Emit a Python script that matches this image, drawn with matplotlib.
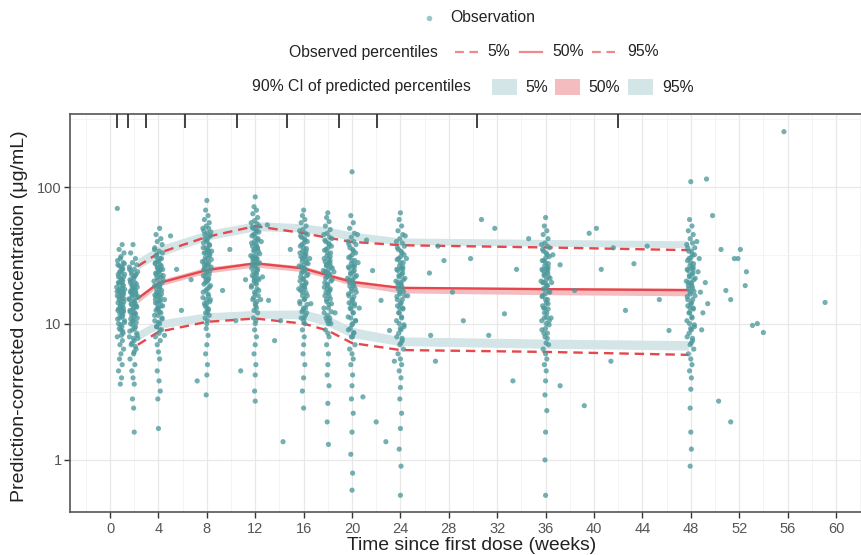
import numpy as np
import matplotlib.pyplot as plt
from matplotlib.lines import Line2D
from matplotlib.patches import Rectangle

plt.rcParams['font.family'] = ['Liberation Sans', 'DejaVu Sans']

# observations, (time in weeks, prediction-corrected concentration)
obs_wk1 = [(0.6, 70), (1.0, 38), (0.75, 35), (1.15, 33), (0.9, 31), (0.85, 30), (1.1, 28), (0.65, 27),
           (0.95, 26), (1.05, 25), (0.8, 24), (1.2, 23), (0.7, 22), (0.98, 21), (0.88, 20), (1.08, 19),
           (0.55, 18.5), (1.02, 18), (0.82, 17), (1.12, 16.5), (0.6, 16), (1.0, 15.5), (0.75, 15),
           (1.15, 14.5), (0.9, 14), (0.85, 13.5), (1.1, 13), (0.65, 12.5), (0.95, 12), (1.05, 11.5),
           (0.8, 11), (1.2, 10.5), (0.7, 10), (0.98, 9.5), (0.88, 9), (1.08, 8.5), (0.6, 8), (1.02, 7.5),
           (0.82, 7), (1.12, 6.5), (0.9, 6), (0.78, 5.5), (1.0, 5), (0.7, 4.5), (0.95, 4), (0.85, 3.6),
           (1.05, 20.5), (0.72, 17.5), (0.92, 23.5), (1.1, 12.2),
           (0.62, 29), (1.18, 27.5), (0.78, 26.5), (1.03, 25.5), (0.92, 24.5), (0.68, 23), (1.13, 22),
           (0.87, 21.5), (0.97, 20.8), (0.73, 19.8), (1.07, 19.2), (0.83, 18.2), (1.22, 17.8),
           (0.58, 17.2), (0.93, 16.8), (1.01, 16.2), (0.77, 15.8), (1.16, 15.2), (0.86, 14.8),
           (0.66, 14.2), (1.06, 13.8), (0.96, 13.2), (0.71, 12.8), (1.11, 12.4), (0.81, 11.8),
           (0.99, 11.2), (0.63, 10.8), (1.19, 10.2), (0.89, 9.8), (0.76, 9.2), (1.04, 8.8), (0.94, 8.2),
           (0.69, 20), (1.09, 17), (0.84, 13)]
obs_wk2 = [(1.9, 38), (1.7, 33), (2.1, 30), (1.85, 28), (2.2, 27), (1.6, 26), (2.0, 25), (1.75, 24),
           (2.15, 23), (1.95, 22), (1.65, 21), (2.05, 20), (1.8, 19), (2.25, 18.5), (1.9, 18), (1.7, 17),
           (2.1, 16.5), (1.85, 16), (2.2, 15.5), (1.6, 15), (2.0, 14.5), (1.75, 14), (2.15, 13.5),
           (1.95, 13), (1.65, 12.5), (2.05, 12), (1.8, 11.5), (2.25, 11), (1.9, 10.5), (1.7, 10),
           (2.1, 9.5), (1.85, 9), (2.2, 8.5), (1.6, 8), (2.0, 7.5), (1.75, 7), (2.15, 6.5), (1.95, 6),
           (1.65, 5.5), (2.05, 5), (1.8, 4.5), (1.9, 4), (2.0, 3.6), (1.85, 2.8), (1.95, 2.4), (2.0, 1.6),
           (1.75, 20.5), (2.1, 17.5), (1.95, 11.8), (2.3, 7.8),
           (1.62, 25), (2.28, 24), (1.78, 23), (2.08, 22.5), (1.97, 21.5), (1.68, 20), (2.18, 19.5),
           (1.88, 18.8), (2.02, 18.2), (1.73, 17.5), (2.13, 16.8), (1.83, 16.2), (2.32, 15.8),
           (1.58, 15.2), (1.98, 14.8), (2.06, 14.2), (1.77, 13.8), (2.21, 13.2), (1.91, 12.8),
           (1.66, 12.2), (2.11, 11.8), (2.01, 11.2), (1.71, 10.8), (2.16, 10.2), (1.86, 9.8),
           (2.04, 9.2), (1.63, 8.8), (2.24, 8.2), (1.94, 7.8), (1.81, 7.2), (2.09, 6.8), (1.99, 6.2),
           (1.74, 17), (2.14, 13.5), (1.89, 10.5)]
obs_wk4 = [(4.1, 50), (3.8, 45), (4.2, 42), (3.9, 40), (4.3, 38), (3.7, 36), (4.05, 34), (3.85, 32),
           (4.25, 30), (3.95, 29), (3.75, 28), (4.15, 27), (3.9, 26), (4.35, 25), (4.0, 24), (3.8, 23),
           (4.2, 22), (3.95, 21), (4.3, 20), (3.7, 19), (4.1, 18), (3.85, 17), (4.25, 16.5), (4.05, 16),
           (3.75, 15), (4.15, 14.5), (3.9, 14), (4.35, 13.5), (4.0, 13), (3.8, 12.5), (4.2, 12),
           (3.95, 11.5), (4.3, 11), (3.7, 10.5), (4.1, 10), (3.85, 9.5), (4.25, 9), (4.05, 8.5),
           (3.75, 8), (4.15, 7.5), (3.9, 7), (4.0, 6.2), (4.1, 5.5), (3.9, 4.5), (4.05, 3.8), (4.15, 3.2),
           (3.95, 2.8), (4.0, 1.7), (4.4, 22.5), (4.5, 8.2),
           (3.67, 35), (4.33, 33), (3.83, 31), (4.13, 30), (4.02, 28.5), (3.73, 27.5), (4.23, 26.5),
           (3.93, 25.5), (4.07, 24.5), (3.78, 23.5), (4.18, 22.8), (3.88, 21.8), (4.37, 21.2),
           (3.63, 20.5), (4.03, 19.5), (4.11, 18.8), (3.82, 18.2), (4.26, 17.5), (3.96, 16.8),
           (3.71, 16.2), (4.16, 15.5), (4.06, 14.8), (3.76, 14.2), (4.21, 13.5), (3.91, 12.8),
           (4.09, 12.2), (3.68, 11.5), (4.29, 10.8), (3.99, 10.2), (3.86, 9.5), (4.14, 9.0), (4.04, 19),
           (3.79, 15.8), (4.19, 25), (3.94, 13)]
obs_wk8 = [(8.0, 80), (7.9, 68), (8.1, 62), (7.8, 58), (8.2, 55), (7.95, 52), (8.15, 50), (7.75, 48),
           (8.05, 46), (8.3, 44), (7.85, 42), (8.0, 40), (8.2, 38), (7.7, 36), (8.1, 35), (7.9, 33),
           (8.25, 32), (8.05, 30), (7.8, 29), (8.15, 28), (7.95, 27), (8.35, 26), (7.75, 25), (8.0, 24),
           (8.2, 23), (7.85, 22), (8.1, 21), (7.9, 20), (8.3, 19), (8.05, 18), (7.7, 17), (8.15, 16),
           (7.95, 15), (8.25, 14.5), (7.8, 14), (8.0, 13), (8.1, 12.5), (7.9, 12), (8.2, 11.5),
           (7.85, 11), (8.05, 10.5), (8.0, 10), (7.95, 9.2), (8.1, 8.2), (8.0, 7), (7.9, 6), (8.05, 5),
           (8.0, 4.2), (7.95, 3.0), (8.4, 34),
           (7.67, 50), (8.33, 47), (7.83, 45), (8.13, 43), (8.02, 41), (7.73, 39), (8.23, 37.5),
           (7.93, 36), (8.07, 34.5), (7.78, 33), (8.18, 31.5), (7.88, 30.5), (8.37, 29.5), (7.63, 28.5),
           (8.03, 27.5), (8.11, 26.5), (7.82, 25.5), (8.26, 24.5), (7.96, 23.5), (7.71, 22.5),
           (8.16, 21.5), (8.06, 20.5), (7.76, 19.5), (8.21, 18.5), (7.91, 17.5), (8.09, 16.5),
           (7.68, 15.5), (8.29, 15), (7.99, 14), (7.86, 13.5), (8.14, 12.8), (8.04, 12), (7.79, 27),
           (8.19, 33.5), (7.94, 21)]
obs_wk12 = [(12.0, 85), (11.9, 72), (12.1, 68), (11.8, 64), (12.2, 60), (11.95, 57), (12.15, 54),
            (11.75, 51), (12.05, 49), (12.3, 47), (11.85, 45), (12.0, 43), (12.2, 41), (11.7, 39),
            (12.1, 37), (11.9, 35), (12.25, 34), (12.05, 32), (11.8, 31), (12.15, 30), (11.95, 29),
            (12.35, 28), (11.75, 27), (12.0, 26), (12.2, 25), (11.85, 24), (12.1, 23), (11.9, 22),
            (12.3, 21), (12.05, 20), (11.7, 19), (12.15, 18), (11.95, 17), (12.25, 16), (11.8, 15),
            (12.0, 14), (12.1, 13), (11.9, 12.5), (12.2, 12), (11.85, 11), (12.05, 10.5), (12.0, 10),
            (11.95, 9), (12.1, 8), (12.0, 7), (11.9, 6), (12.05, 5), (12.0, 4.2), (11.95, 3.2),
            (12.0, 2.7), (12.5, 40), (12.6, 22), (12.45, 15),
            (11.67, 55), (12.33, 52), (11.83, 50), (12.13, 48), (12.02, 46), (11.73, 44), (12.23, 42),
            (11.93, 40), (12.07, 38.5), (11.78, 37), (12.18, 35.5), (11.88, 34), (12.37, 32.5),
            (11.63, 31.5), (12.03, 30.5), (12.11, 29.5), (11.82, 28.5), (12.26, 27.5), (11.96, 26.5),
            (11.71, 25.5), (12.16, 24.5), (12.06, 23.5), (11.76, 22.5), (12.21, 21.5), (11.91, 20.5),
            (12.09, 19.5), (11.68, 18.5), (12.29, 17.5), (11.99, 16.5), (11.86, 15.5), (12.14, 14.5),
            (12.04, 13.5), (11.79, 30), (12.19, 36), (11.94, 21)]
obs_wk16 = [(16.0, 68), (15.9, 62), (16.1, 58), (15.8, 55), (16.2, 52), (15.95, 49), (16.15, 46),
            (15.75, 44), (16.05, 42), (16.3, 40), (15.85, 38), (16.0, 36), (16.2, 34), (15.7, 33),
            (16.1, 31), (15.9, 30), (16.25, 28), (16.05, 27), (15.8, 26), (16.15, 25), (15.95, 24),
            (16.35, 23), (15.75, 22), (16.0, 21), (16.2, 20), (15.85, 19), (16.1, 18), (15.9, 17),
            (16.3, 16), (16.05, 15), (15.7, 14), (16.15, 13), (15.95, 12.5), (16.25, 12), (15.8, 11),
            (16.0, 10.5), (16.1, 10), (15.9, 9), (16.05, 8), (16.0, 7), (15.95, 6), (16.1, 5), (16.0, 4),
            (15.9, 3.2), (16.0, 2.4), (16.5, 30), (16.6, 14), (15.6, 18),
            (15.67, 48), (16.33, 45), (15.83, 43), (16.13, 41), (16.02, 39), (15.73, 37), (16.23, 35.5),
            (15.93, 34), (16.07, 32.5), (15.78, 31), (16.18, 29.5), (15.88, 28.5), (16.37, 27.5),
            (15.63, 26.5), (16.03, 25.5), (16.11, 24.5), (15.82, 23.5), (16.26, 22.5), (15.96, 21.5),
            (15.71, 20.5), (16.16, 19.5), (16.06, 18.5), (15.76, 17.5), (16.21, 16.8), (15.91, 16),
            (16.09, 15.2), (15.68, 14.5), (16.29, 13.8), (15.99, 13), (15.86, 12.2), (16.14, 11.5),
            (16.04, 11), (15.79, 26), (16.19, 32), (15.94, 19)]
obs_wk18 = [(18.0, 65), (17.9, 60), (18.1, 56), (17.8, 52), (18.2, 49), (17.95, 46), (18.15, 43),
            (17.75, 41), (18.05, 39), (18.3, 37), (17.85, 35), (18.0, 33), (18.2, 31), (17.7, 30),
            (18.1, 28), (17.9, 27), (18.25, 26), (18.05, 25), (17.8, 24), (18.15, 23), (17.95, 22),
            (18.35, 21), (17.75, 20), (18.0, 19), (18.2, 18), (17.85, 17), (18.1, 16), (17.9, 15),
            (18.3, 14), (18.05, 13), (17.7, 12), (18.15, 11), (17.95, 10.5), (18.25, 10), (17.8, 9),
            (18.0, 8.5), (18.1, 8), (17.9, 7), (18.05, 6), (18.0, 5), (17.95, 4.2), (18.1, 3.5),
            (18.0, 2.6), (17.95, 1.9), (18.05, 1.3), (18.5, 24), (18.6, 12),
            (17.67, 45), (18.33, 42), (17.83, 40), (18.13, 38), (18.02, 36), (17.73, 34.5), (18.23, 33),
            (17.93, 31.5), (18.07, 30), (17.78, 28.5), (18.18, 27.5), (17.88, 26.5), (18.37, 25.5),
            (17.63, 24.5), (18.03, 23.5), (18.11, 22.5), (17.82, 21.5), (18.26, 20.5), (17.96, 19.5),
            (17.71, 18.5), (18.16, 17.5), (18.06, 16.8), (17.76, 16), (18.21, 15.2), (17.91, 14.5),
            (18.09, 13.8), (17.68, 13), (18.29, 12.2), (17.99, 11.5), (17.86, 11), (18.14, 10.5),
            (18.04, 10), (17.79, 24), (18.19, 29), (17.94, 18)]
obs_wk20 = [(20.0, 130), (19.9, 62), (20.1, 55), (19.8, 50), (20.2, 46), (19.95, 43), (20.15, 40),
            (19.75, 38), (20.05, 35), (20.3, 33), (19.85, 31), (20.0, 29), (20.2, 27), (19.7, 26),
            (20.1, 24), (19.9, 23), (20.25, 22), (20.05, 21), (19.8, 20), (20.15, 19), (19.95, 18),
            (20.35, 17), (19.75, 16), (20.0, 15), (20.2, 14), (19.85, 13), (20.1, 12), (19.9, 11),
            (20.3, 10.5), (20.05, 10), (19.7, 9), (20.15, 8.5), (19.95, 8), (20.25, 7), (19.8, 6.5),
            (20.0, 6), (20.1, 5.5), (19.9, 5), (20.05, 4.2), (20.0, 3.5), (19.95, 2.8), (20.1, 2.2),
            (20.0, 1.6), (19.9, 1.1), (20.05, 0.8), (20.0, 0.6), (20.5, 28), (20.6, 13), (20.45, 45),
            (19.67, 40), (20.33, 38), (19.83, 36), (20.13, 34), (20.02, 32), (19.73, 30.5), (20.23, 29),
            (19.93, 27.5), (20.07, 26.5), (19.78, 25.5), (20.18, 24.5), (19.88, 23.5), (20.37, 22.5),
            (19.63, 21.5), (20.03, 20.5), (20.11, 19.5), (19.82, 18.8), (20.26, 18), (19.96, 17.2),
            (19.71, 16.5), (20.16, 15.8), (20.06, 15), (19.76, 14.2), (20.21, 13.5), (19.91, 12.8),
            (20.09, 12), (19.68, 11.2), (20.29, 10.5), (19.99, 9.8), (19.86, 9.2), (20.14, 8.6),
            (20.04, 8), (19.79, 21), (20.19, 26), (19.94, 14)]
obs_wk24 = [(24.0, 65), (23.9, 58), (24.1, 52), (23.8, 48), (24.2, 45), (23.95, 42), (24.15, 39),
            (23.75, 36), (24.05, 34), (24.3, 32), (23.85, 30), (24.0, 28), (24.2, 26), (23.7, 25),
            (24.1, 23), (23.9, 22), (24.25, 21), (24.05, 20), (23.8, 19), (24.15, 18), (23.95, 17),
            (24.35, 16), (23.75, 15), (24.0, 14), (24.2, 13), (23.85, 12), (24.1, 11), (23.9, 10),
            (24.3, 9.5), (24.05, 9), (23.7, 8), (24.15, 7.5), (23.95, 7), (24.25, 6.5), (23.8, 6),
            (24.0, 5.5), (24.1, 5), (23.9, 4.5), (24.05, 4), (24.0, 3.4), (23.95, 2.8), (24.1, 2.2),
            (24.0, 1.7), (23.9, 1.2), (24.05, 0.9), (24.0, 0.55), (24.5, 30), (24.6, 16), (24.4, 44),
            (23.67, 40), (24.33, 37), (23.83, 35), (24.13, 33), (24.02, 31), (23.73, 29.5), (24.23, 28),
            (23.93, 26.5), (24.07, 25.5), (23.78, 24.5), (24.18, 23.5), (23.88, 22.5), (24.37, 21.5),
            (23.63, 20.5), (24.03, 19.5), (24.11, 18.8), (23.82, 18), (24.26, 17.2), (23.96, 16.5),
            (23.71, 15.8), (24.16, 15), (24.06, 14.2), (23.76, 13.5), (24.21, 12.8), (23.91, 12),
            (24.09, 11.2), (23.68, 10.5), (24.29, 9.8), (23.99, 9.2), (23.86, 8.5), (24.14, 7.8),
            (24.04, 7.2), (23.79, 20), (24.19, 25), (23.94, 13)]
obs_wk36 = [(36.0, 60), (35.9, 52), (36.1, 48), (35.8, 45), (36.2, 42), (35.95, 39), (36.15, 37),
            (35.75, 35), (36.05, 33), (36.3, 31), (35.85, 29), (36.0, 28), (36.2, 26), (35.7, 25),
            (36.1, 24), (35.9, 23), (36.25, 22), (36.05, 21), (35.8, 20), (36.15, 19), (35.95, 18),
            (36.35, 17), (35.75, 16), (36.0, 15), (36.2, 14), (35.85, 13), (36.1, 12), (35.9, 11),
            (36.3, 10.5), (36.05, 10), (35.7, 9), (36.15, 8.5), (35.95, 8), (36.25, 7), (35.8, 6.5),
            (36.0, 6), (36.1, 5.5), (35.9, 5), (36.05, 4.5), (36.0, 3.8), (35.95, 3.0), (36.1, 2.3),
            (36.0, 1.6), (35.95, 1.0), (36.0, 0.55), (36.5, 20), (36.6, 32), (36.45, 11),
            (35.67, 38), (36.33, 36), (35.83, 34), (36.13, 32), (36.02, 30.5), (35.73, 29), (36.23, 27.5),
            (35.93, 26.5), (36.07, 25.5), (35.78, 24.5), (36.18, 23.5), (35.88, 22.5), (36.37, 21.5),
            (35.63, 20.5), (36.03, 19.5), (36.11, 18.8), (35.82, 18), (36.26, 17.2), (35.96, 16.5),
            (35.71, 15.8), (36.16, 15), (36.06, 14.2), (35.76, 13.5), (36.21, 12.8), (35.91, 12),
            (36.09, 11.2), (35.68, 10.5), (36.29, 9.8), (35.99, 9.2), (35.86, 8.5), (36.14, 7.8),
            (36.04, 7.2), (35.79, 20), (36.19, 25), (35.94, 13)]
obs_wk48 = [(48.0, 110), (47.9, 58), (48.1, 52), (47.8, 48), (48.2, 45), (47.95, 42), (48.15, 39),
            (47.75, 36), (48.05, 34), (48.3, 32), (47.85, 30), (48.0, 28), (48.2, 26), (47.7, 25),
            (48.1, 23), (47.9, 22), (48.25, 21), (48.05, 20), (47.8, 19), (48.15, 18), (47.95, 17),
            (48.35, 16), (47.75, 15), (48.0, 14), (48.2, 13), (47.85, 12), (48.1, 11), (47.9, 10),
            (48.3, 9.5), (48.05, 9), (47.7, 8), (48.15, 7.5), (47.95, 7), (48.25, 6.5), (47.8, 6),
            (48.0, 5.5), (48.1, 5), (47.9, 4.5), (48.05, 4), (48.0, 3.3), (47.95, 2.4), (48.0, 1.6),
            (48.05, 1.2), (47.95, 0.9), (48.6, 24), (48.8, 17), (49.0, 12), (48.7, 30), (49.2, 20),
            (48.9, 9), (48.5, 40), (49.4, 14),
            (47.67, 38), (48.33, 36), (47.83, 34), (48.13, 32), (48.02, 30.5), (47.73, 29), (48.23, 27.5),
            (47.93, 26.5), (48.07, 25.5), (47.78, 24.5), (48.18, 23.5), (47.88, 22.5), (48.37, 21.5),
            (47.63, 20.5), (48.03, 19.5), (48.11, 18.8), (47.82, 18), (48.26, 17.2), (47.96, 16.5),
            (47.71, 15.8), (48.16, 15), (48.06, 14.2), (47.76, 13.5), (48.21, 12.8), (47.91, 12),
            (48.09, 11.2), (47.68, 10.5), (48.29, 9.8), (47.99, 9.2), (47.86, 8.5), (48.14, 7.8),
            (48.04, 7.2), (47.79, 20), (48.19, 25), (47.94, 13)]
# off-schedule samples
obs_other = [(5.9, 12.5), (6.7, 21), (5.5, 25), (7.2, 3.8), (5.0, 44), (4.5, 15),
             (9.9, 35), (10.4, 10.5), (10.8, 4.5), (9.3, 17.5), (11.2, 21),
             (13.1, 14.8), (14.1, 10.5), (14.9, 35), (13.6, 7.5), (13.0, 53), (14.3, 1.36),
             (21.2, 41), (21.7, 24.5), (22.4, 14.8), (23.1, 8.9), (20.9, 2.9), (22.0, 1.9),
             (22.8, 1.36), (23.5, 5.3),
             (26.4, 23.5), (27.1, 37), (28.3, 17), (29.2, 10.5), (29.8, 30), (30.7, 58), (31.8, 50),
             (32.6, 11.8), (33.6, 25), (34.6, 42), (33.3, 3.8), (31.3, 8.2), (27.6, 29), (26.5, 8.2),
             (26.9, 5.3),
             (37.2, 27), (38.4, 17.5), (39.6, 46), (40.6, 25), (41.6, 36), (42.6, 12.5), (43.3, 27.5),
             (44.4, 37), (45.4, 15), (46.2, 8.9), (39.2, 2.5), (41.4, 5.3), (37.2, 3.5), (40.2, 50),
             (49.3, 115), (49.8, 62), (50.5, 35), (51.6, 30), (51.9, 30), (52.1, 35), (50.9, 17.5),
             (51.3, 15), (52.5, 19), (53.1, 9.7), (53.5, 10), (54.0, 8.6), (55.7, 256), (59.1, 14.3),
             (50.3, 2.7), (51.3, 1.9), (52.6, 24)]

# time-bin boundaries (rug on top)
bin_edges = [0.55, 1.49, 2.98, 6.16, 10.5, 14.6, 18.9, 22.07, 30.3, 42.0]

# percentile curves
pct_time = [2.3, 4.0, 8.0, 12.0, 16.0, 18.0, 20.0, 24.0, 36.0, 47.8]
obs_p05 = [7.0, 8.7, 10.3, 10.9, 10.0, 8.9, 7.2, 6.4, 6.2, 5.9]
obs_p50 = [15.3, 19.8, 24.7, 27.7, 25.4, 22.6, 20.2, 18.3, 17.9, 17.6]
obs_p95 = [26.4, 32.9, 43.3, 51.9, 46.1, 42.6, 39.8, 37.6, 36.2, 34.6]
pred_p05_lo = [7.6, 9.2, 10.5, 11.0, 10.8, 9.6, 7.9, 6.9, 6.6, 6.4]
pred_p05_hi = [8.8, 10.6, 12.0, 12.5, 12.6, 11.4, 9.4, 8.0, 7.7, 7.5]
pred_p50_lo = [14.2, 18.8, 23.5, 26.0, 24.0, 21.5, 19.0, 16.8, 16.3, 16.0]
pred_p50_hi = [15.8, 20.8, 26.0, 28.5, 26.5, 23.5, 21.0, 18.6, 18.4, 18.2]
pred_p95_lo = [25.0, 31.0, 41.0, 48.0, 47.0, 44.0, 41.0, 38.0, 37.0, 36.0]
pred_p95_hi = [30.0, 37.0, 48.0, 56.0, 54.0, 51.0, 47.0, 42.5, 41.5, 40.5]

x_ticks = list(range(0, 61, 4))
y_ticks = [1, 10, 100]

teal = '#4d999c'
red = '#e5474c'
band_blue = '#d3e5e7'
band_pink = '#f5bcc0'

fig = plt.figure(figsize=(8.61, 5.55), dpi=100)
ax = fig.add_axes([0.0813, 0.0775, 0.9187, 0.7171])

# CI bands
ax.fill_between(pct_time, pred_p05_lo, pred_p05_hi, color=band_blue, lw=0, zorder=1)
ax.fill_between(pct_time, pred_p95_lo, pred_p95_hi, color=band_blue, lw=0, zorder=1)
ax.fill_between(pct_time, pred_p50_lo, pred_p50_hi, color=band_pink, lw=0, zorder=1)

# observed percentiles
ax.plot(pct_time, obs_p05, color=red, lw=1.7, ls=(0, (4, 2.5)), zorder=2)
ax.plot(pct_time, obs_p50, color=red, lw=1.7, zorder=2)
ax.plot(pct_time, obs_p95, color=red, lw=1.7, ls=(0, (4, 2.5)), zorder=2)

# observations
all_obs = (obs_wk1 + obs_wk2 + obs_wk4 + obs_wk8 + obs_wk12 + obs_wk16 + obs_wk18 + obs_wk20
           + obs_wk24 + obs_wk36 + obs_wk48 + obs_other)
t = np.array([p[0] for p in all_obs])
c = np.array([p[1] for p in all_obs])
ax.scatter(t, c, s=14, color=teal, alpha=0.78, edgecolors='none', zorder=3)

# bin rug
ax.vlines(bin_edges, 0.965, 1.0, transform=ax.get_xaxis_transform(), color='#333333', lw=1.3, zorder=4)

ax.set_yscale('log')
ax.set_xlim(-3.31, 62.07)
ax.set_ylim(0.415, 345)
ax.set_xticks(x_ticks)
ax.set_xticks(list(range(-2, 63, 4)), minor=True)
ax.set_yticks(y_ticks)
ax.set_yticklabels([str(v) for v in y_ticks])
ax.yaxis.set_minor_locator(plt.FixedLocator([10 ** -0.5, 10 ** 0.5, 10 ** 1.5, 10 ** 2.5]))
ax.yaxis.set_minor_formatter(plt.NullFormatter())
ax.tick_params(which='major', length=4, width=1, color='#333333', labelcolor='#555555', labelsize=10.5)
ax.tick_params(axis='y', pad=2)
ax.tick_params(which='minor', length=0)
ax.grid(which='major', color='#e8e8e8', lw=0.9, zorder=0)
ax.grid(which='minor', color='#f2f2f2', lw=0.6, zorder=0)
ax.set_axisbelow(True)
for side in ['left', 'bottom', 'top']:
    ax.spines[side].set_color('#555555')
    ax.spines[side].set_linewidth(1.2)
ax.spines['right'].set_visible(False)

ax.set_xlabel('Time since first dose (weeks)', fontsize=13.9, color='#222222')
ax.xaxis.set_label_coords(0.508, -0.062)
ax.set_ylabel('Prediction-corrected concentration (μg/mL)', fontsize=14, color='#222222')
ax.yaxis.set_label_coords(-0.053, 0.492)

# legend, drawn by hand in pixel positions
W, H = 861, 555


def fx(px):
    return px / W


def fy(py):
    return 1 - py / H


lfs = 11.3
fig.add_artist(Line2D([fx(429)], [fy(18)], marker='o', ms=4, color='#9cc6c8', mec='none'))
fig.text(fx(450), fy(18), 'Observation', fontsize=lfs, va='center', color='#222222')

y2 = 52
fig.text(fx(289), fy(y2), 'Observed percentiles', fontsize=lfs, va='center', color='#222222')
fig.add_artist(Line2D([fx(455), fx(478)], [fy(y2), fy(y2)], color='#ee8a8d', lw=1.6, ls=(0, (4, 2.5))))
fig.text(fx(487), fy(y2), '5%', fontsize=lfs, va='center', color='#222222')
fig.add_artist(Line2D([fx(520), fx(542)], [fy(y2), fy(y2)], color='#ee8a8d', lw=1.6))
fig.text(fx(552), fy(y2), '50%', fontsize=lfs, va='center', color='#222222')
fig.add_artist(Line2D([fx(592), fx(615)], [fy(y2), fy(y2)], color='#ee8a8d', lw=1.6, ls=(0, (4, 2.5))))
fig.text(fx(627), fy(y2), '95%', fontsize=lfs, va='center', color='#222222')

y3 = 87
fig.text(fx(252), fy(y3), '90% CI of predicted percentiles', fontsize=lfs, va='center', color='#222222')
for x0, col, lab, xt in [(492, band_blue, '5%', 525), (555, band_pink, '50%', 588), (628, band_blue, '95%', 662)]:
    fig.add_artist(Rectangle((fx(x0), fy(y3 + 8)), 25 / W, 16 / H, transform=fig.transFigure,
                             facecolor=col, edgecolor='none'))
    fig.text(fx(xt), fy(y3), lab, fontsize=lfs, va='center', color='#222222')

fig.savefig('out.png', dpi=100)
